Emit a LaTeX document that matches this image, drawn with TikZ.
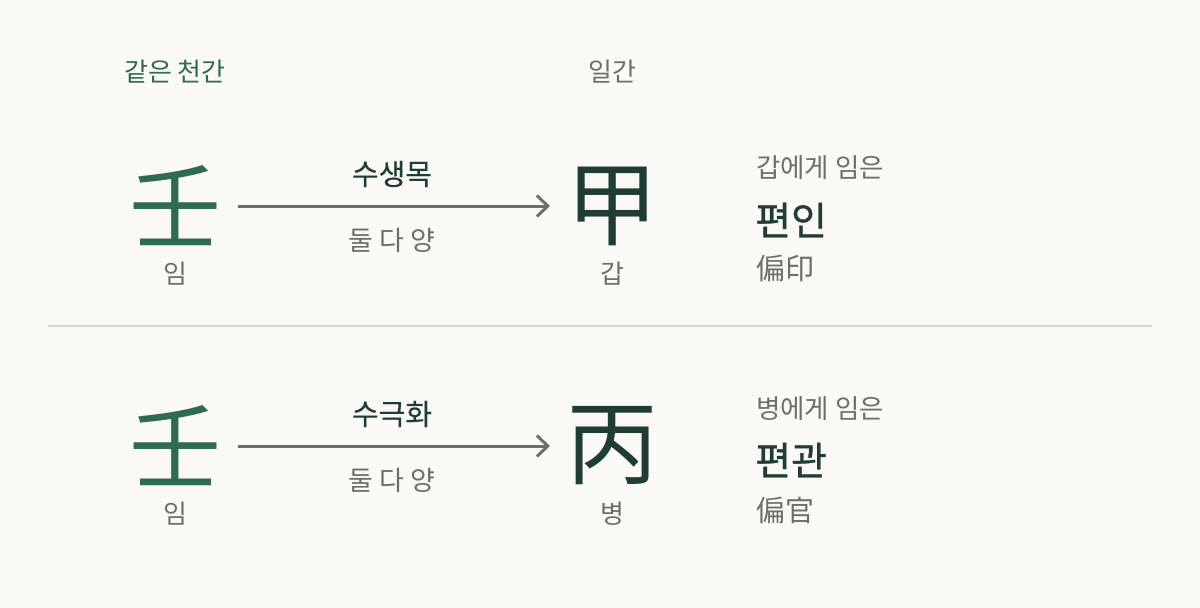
\documentclass[tikz,border=0pt]{standalone}
\usepackage{fontspec}
\setmainfont{Noto Sans CJK KR}
\newfontfamily\kr{Noto Sans CJK KR}
\newfontfamily\krm[FakeBold=0.9]{Noto Sans CJK KR}
\newfontfamily\krs[FakeBold=0.4]{Noto Sans CJK KR}
\usetikzlibrary{arrows.meta}
\definecolor{bg}{HTML}{FAF9F5}
\definecolor{grn}{HTML}{2E6B4F}
\definecolor{dk}{HTML}{1F3D30}
\definecolor{gry}{HTML}{6B6F68}
\definecolor{rulec}{HTML}{D6D4CE}
\tikzset{
  lbltxt/.style={inner sep=0pt, font=\kr\fontsize{26}{29}\selectfont, text=gry},
  bigch/.style={inner sep=0pt, font=\kr\fontsize{92}{96}\selectfont},
  reltxt/.style={inner sep=0pt, font=\krs\fontsize{29}{32}\selectfont, text=dk},
  subtxt/.style={inner sep=0pt, font=\kr\fontsize{27}{30}\selectfont, text=gry},
  desctxt/.style={inner sep=0pt, anchor=west, font=\kr\fontsize{26.5}{30}\selectfont, text=gry},
  nmtxt/.style={inner sep=0pt, anchor=west, font=\krm\fontsize{39}{42}\selectfont, text=dk},
  hantxt/.style={inner sep=0pt, anchor=west, font=\kr\fontsize{29}{32}\selectfont, text=gry},
  conn/.style={draw=gry, line width=3pt, -{Straight Barb[length=11pt,width=21pt,line width=3pt]}},
}
\begin{document}
\begin{tikzpicture}[x=1pt,y=-1pt]
\fill[bg] (0,0) rectangle (1200,608);
\useasboundingbox (0,0) rectangle (1200,608);
\node[lbltxt, text=grn] (h1) at (175,72) {같은 천간};
\node[lbltxt] (h2) at (612,72) {일간};
% row 1
\node[bigch, text=grn] (a1) at (175,206) {壬};
\node[bigch, text=dk] (b1) at (612,206) {甲};
\node[lbltxt] (a1l) at (175,274) {임};
\node[lbltxt] (b1l) at (612,274) {갑};
\coordinate (s1) at (238,206);
\coordinate (e1) at (550,206);
\draw[conn] (s1) -- (e1);
\node[reltxt] (r1) at (392,174) {수생목};
\node[subtxt] (q1) at (392,240) {둘 다 양};
\node[desctxt] (d1) at (756,168) {갑에게 임은};
\node[nmtxt] (n1) at (755,220) {편인};
\node[hantxt] (c1) at (756,268) {偏印};
% divider
\coordinate (L) at (48,326);
\coordinate (R) at (1152,326);
\draw[rulec, line width=1.2pt] (L) -- (R);
% row 2
\node[bigch, text=grn] (a2) at (175,446) {壬};
\node[bigch, text=dk] (b2) at (612,446) {丙};
\node[lbltxt] (a2l) at (175,514) {임};
\node[lbltxt] (b2l) at (612,514) {병};
\coordinate (s2) at (238,446);
\coordinate (e2) at (550,446);
\draw[conn] (s2) -- (e2);
\node[reltxt] (r2) at (392,414) {수극화};
\node[subtxt] (q2) at (392,480) {둘 다 양};
\node[desctxt] (d2) at (756,409) {병에게 임은};
\node[nmtxt] (n2) at (755,460) {편관};
\node[hantxt] (c2) at (756,510) {偏官};
\end{tikzpicture}
\end{document}
